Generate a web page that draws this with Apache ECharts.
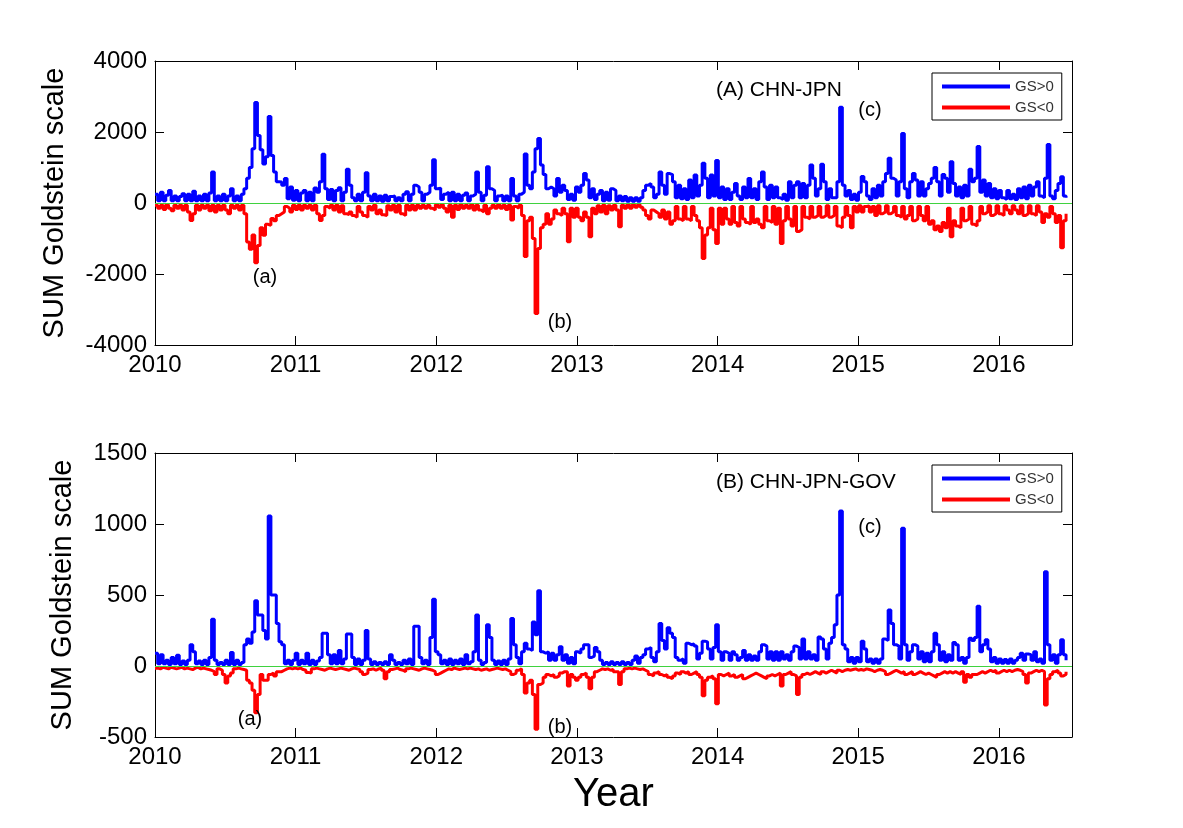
<!DOCTYPE html>
<html><head><meta charset="utf-8">
<script src="https://cdn.jsdelivr.net/npm/echarts@6/dist/echarts.min.js"></script>
<style>html,body{margin:0;padding:0;background:#fff}#c{width:1183px;height:828px}</style>
</head><body><div id="c"></div>
<script>
// weekly series, first week at start of 2010
const startYear = 2010;
const weekStep = 7 / 365.25;
const xTickLabels = [2010, 2011, 2012, 2013, 2014, 2015, 2016];
const seriesNames = ['GS>0', 'GS<0'];

// (A) CHN-JPN, GS>0
const posA = [
250,60,300,60,220,350,60,200,60,180,260,60,250,60,330,60,200,60,250,60,
280,870,60,200,60,250,60,200,400,60,200,60,250,400,700,1000,1530,2830,1900,1500,
1100,1300,2440,1340,870,600,590,500,690,120,450,80,
350,60,280,350,60,300,60,420,300,600,1370,400,100,380,60,350,430,60,300,950,
500,150,60,250,60,300,850,200,60,250,60,200,50,220,60,180,200,60,150,60,
250,320,60,250,500,450,300,60,250,300,500,1220,400,420,100,250,300,60,300,60,
250,60,220,280,60,200,250,870,300,60,220,1020,400,350,60,200,220,60,200,60,
690,200,60,250,300,1380,500,400,870,1530,1820,1070,800,400,450,400,200,690,300,500,
350,100,250,80,450,300,500,830,650,150,400,100,250,350,60,300,80,400,350,60,
200,60,180,50,150,50,150,50,150,350,500,550,450,150,250,870,500,250,830,800,
600,150,500,120,400,100,650,150,790,200,500,1120,700,150,790,200,1200,150,450,100,
400,100,300,550,200,100,450,150,690,150,400,100,600,870,450,100,500,150,450,150,
100,250,80,600,150,500,600,150,550,150,500,1070,700,200,400,1090,600,100,400,150,
150,600,2695,500,200,350,100,250,80,300,750,600,200,100,400,150,500,200,600,830,
1260,700,650,200,600,1960,400,150,600,830,650,200,600,200,400,550,700,1000,600,200,
800,700,300,1160,550,200,450,150,500,200,950,600,700,1590,300,650,200,550,150,400,
120,350,150,100,350,120,250,100,400,150,450,120,500,200,450,600,200,150,700,1650,
200,120,350,550,740,200,150
];
// (A) CHN-JPN, GS<0
const negA = [
-60,-150,-60,-180,-50,-150,-220,-60,-150,-60,-200,-60,-250,-490,-300,-60,-200,-60,-150,-60,
-220,-60,-250,-60,-200,-60,-200,-300,-60,-150,-60,-200,-60,-300,-1100,-1300,-900,-1680,-1200,-700,
-910,-600,-630,-440,-500,-350,-300,-250,-100,-150,-250,-60,
-180,-60,-200,-60,-150,-60,-200,-60,-300,-490,-350,-100,-150,-60,-200,-60,-250,-80,-300,-330,
-250,-350,-400,-100,-250,-350,-400,-100,-200,-60,-300,-200,-330,-350,-80,-200,-60,-250,-60,-300,
-350,-60,-200,-60,-200,-60,-150,-60,-150,-60,-150,-200,-50,-120,-50,-150,-250,-60,-400,-60,
-180,-50,-150,-60,-150,-50,-200,-60,-200,-250,-60,-300,-150,-60,-150,-50,-150,-60,-180,-60,
-480,-100,-150,-60,-350,-1510,-500,-400,-1000,-3110,-1280,-700,-600,-300,-600,-450,-200,-300,-350,-150,
-300,-1090,-150,-400,-150,-400,-500,-250,-400,-950,-150,-300,-80,-250,-60,-300,-80,-200,-60,-200,
-670,-60,-150,-50,-150,-50,-120,-50,-120,-200,-350,-450,-200,-250,-300,-400,-200,-450,-250,-600,
-500,-100,-450,-500,-100,-450,-500,-100,-350,-500,-700,-1560,-900,-700,-150,-750,-1140,-150,-600,-150,
-450,-600,-100,-550,-650,-100,-450,-550,-600,-100,-550,-450,-600,-700,-100,-500,-550,-100,-600,-150,
-1140,-500,-100,-450,-650,-100,-800,-750,-100,-400,-450,-100,-400,-350,-100,-400,-350,-80,-400,-350,
-100,-650,-700,-400,-100,-350,-700,-100,-250,-80,-250,-100,-80,-250,-100,-350,-80,-300,-250,-80,
-300,-250,-100,-350,-400,-100,-450,-350,-100,-500,-450,-100,-350,-500,-100,-600,-500,-750,-650,-800,
-550,-700,-150,-950,-500,-650,-700,-150,-500,-450,-100,-600,-650,-500,-100,-300,-250,-80,-350,-300,
-80,-300,-350,-80,-200,-300,-80,-200,-300,-80,-350,-300,-80,-300,-350,-80,-250,-550,-300,-400,
-100,-300,-550,-350,-1260,-500,-300
];
// (B) CHN-JPN-GOV, GS>0
const posB = [
90,15,80,15,40,10,60,15,75,10,35,10,40,150,100,15,35,10,40,10,
60,330,40,10,25,10,40,10,95,10,40,10,25,150,190,160,240,460,360,360,
250,190,1056,500,500,300,170,150,15,40,10,40,
90,10,40,15,90,10,40,10,35,60,230,230,80,15,80,15,110,15,50,225,
225,60,10,50,10,40,250,50,10,30,10,25,10,30,10,80,40,10,25,10,
40,15,50,10,280,280,60,15,40,10,200,470,100,80,15,40,10,50,10,40,
15,50,10,80,15,30,100,360,40,10,25,290,200,40,10,35,10,40,10,50,
335,150,60,15,100,160,120,110,310,220,530,100,90,100,40,90,40,80,135,40,
80,20,60,15,100,90,120,150,150,60,70,130,100,40,10,25,10,30,10,25,
10,30,10,25,10,40,70,20,60,80,120,130,60,30,100,300,180,120,270,230,
200,60,40,50,20,160,150,155,140,50,90,175,170,120,50,130,290,100,40,100,
90,40,100,80,40,60,110,40,80,40,70,40,100,150,140,50,100,40,100,40,
100,50,80,40,100,140,130,50,190,50,100,50,80,40,205,190,120,50,160,200,
290,500,1091,150,120,30,60,20,60,30,175,120,30,50,20,50,20,50,190,180,
395,300,150,140,50,970,150,40,100,150,140,50,100,30,90,30,100,230,150,40,
100,30,80,40,165,150,40,60,20,60,195,180,200,420,100,150,185,120,30,60,
20,50,20,45,20,50,20,40,60,90,40,85,80,40,100,30,50,20,664,150,
40,80,20,80,185,80,40
];
// (B) CHN-JPN-GOV, GS<0
const negB = [
-15,-20,-10,-15,-20,-10,-15,-20,-15,-10,-20,-15,-20,-25,-15,-10,-20,-15,-20,-25,
-30,-40,-60,-20,-30,-60,-120,-70,-50,-20,-15,-20,-25,-30,-100,-120,-170,-330,-200,-60,
-100,-100,-60,-50,-70,-40,-40,-30,-20,-15,-20,-15,
-20,-15,-25,-30,-45,-50,-20,-15,-20,-25,-30,-20,-15,-20,-25,-20,-15,-20,-25,-30,
-20,-15,-20,-25,-40,-60,-50,-25,-20,-30,-20,-15,-30,-90,-40,-25,-20,-15,-25,-30,
-40,-20,-15,-20,-25,-30,-20,-15,-20,-25,-30,-40,-60,-50,-40,-30,-20,-25,-15,-20,
-25,-20,-15,-20,-15,-20,-25,-20,-30,-25,-20,-30,-25,-20,-15,-20,-25,-20,-30,-40,
-60,-50,-30,-20,-60,-190,-120,-100,-200,-445,-130,-120,-80,-60,-70,-60,-80,-70,-50,-40,
-40,-140,-60,-80,-100,-80,-60,-50,-80,-160,-80,-40,-30,-20,-25,-20,-30,-25,-40,-40,
-130,-40,-20,-15,-20,-15,-20,-25,-20,-30,-40,-60,-70,-50,-40,-60,-70,-60,-80,-90,
-70,-50,-60,-40,-50,-40,-60,-50,-40,-60,-80,-210,-100,-80,-70,-90,-265,-60,-70,-60,
-50,-70,-60,-80,-70,-60,-90,-80,-70,-60,-50,-60,-70,-80,-90,-70,-60,-70,-60,-50,
-140,-60,-50,-40,-60,-70,-200,-80,-60,-50,-60,-50,-40,-50,-60,-40,-50,-40,-30,-40,
-50,-30,-40,-30,-25,-30,-25,-20,-30,-25,-30,-20,-25,-30,-40,-30,-25,-30,-40,-60,
-50,-40,-30,-40,-50,-40,-60,-50,-40,-60,-50,-40,-50,-60,-50,-60,-70,-80,-60,-50,
-40,-50,-40,-50,-40,-50,-60,-40,-115,-60,-80,-60,-60,-50,-40,-50,-40,-30,-40,-30,
-50,-40,-30,-40,-30,-40,-30,-25,-30,-40,-60,-120,-50,-40,-30,-40,-30,-40,-275,-90,
-60,-40,-30,-50,-70,-60,-40
];

const FONT = '"Liberation Sans", Arial, sans-serif';
function pts(arr) { return arr.map((v, i) => [startYear + i * weekStep, v]); }

const chart = echarts.init(document.getElementById('c'), null, { renderer: 'canvas' });

function xAxisPair(gi, withName) {
  const base = {
    type: 'value', gridIndex: gi, min: 2010, max: 2016.52, interval: 1,
    splitLine: { show: false },
    axisLine: { show: true, onZero: false, lineStyle: { color: '#000', width: 1 } },
    axisTick: { show: true, inside: true, length: 9, lineStyle: { color: '#000', width: 1 } }
  };
  return [
    Object.assign({}, base, {
      position: 'bottom',
      axisLabel: {
        show: true, color: '#000', fontSize: 24, fontFamily: FONT, margin: 8,
        showMaxLabel: false,
        formatter: v => (xTickLabels.indexOf(Math.round(v * 1000) / 1000) >= 0 ? String(Math.round(v)) : '')
      },
      name: withName ? 'Year' : '', nameLocation: 'middle', nameGap: 38,
      nameTextStyle: { color: '#000', fontSize: 40, fontFamily: FONT }
    }),
    Object.assign({}, base, { position: 'top', axisLabel: { show: false } })
  ];
}
function yAxisPair(gi, min, max, interval, gap) {
  const base = {
    type: 'value', gridIndex: gi, min: min, max: max, interval: interval,
    splitLine: { show: false },
    axisLine: { show: true, onZero: false, lineStyle: { color: '#000', width: 1 } },
    axisTick: { show: true, inside: true, length: 9, lineStyle: { color: '#000', width: 1 } }
  };
  return [
    Object.assign({}, base, {
      position: 'left',
      axisLabel: { show: true, color: '#000', fontSize: 24, fontFamily: FONT, margin: 8,
        formatter: v => String(v) },
      name: 'SUM Goldstein scale', nameLocation: 'middle', nameGap: gap,
      nameTextStyle: { color: '#000', fontSize: 29, fontFamily: FONT }
    }),
    Object.assign({}, base, { position: 'right', axisLabel: { show: false } })
  ];
}

function lineSeries(name, color, data, xi, yi, withZero) {
  const s = {
    name: name, type: 'line', xAxisIndex: xi, yAxisIndex: yi, step: 'end',
    data: pts(data), showSymbol: false, symbol: 'none', animation: false,
    lineStyle: { color: color, width: 3 }, itemStyle: { color: color },
    z: 2
  };
  if (withZero) {
    s.markLine = {
      silent: true, symbol: 'none', animation: false, z: 5,
      label: { show: false },
      lineStyle: { color: '#3fd23f', width: 1, type: 'solid' },
      data: [{ yAxis: 0 }]
    };
  }
  return s;
}

const legendBase = {
  orient: 'vertical', left: 932, itemWidth: 68, itemHeight: 4, itemGap: 6, icon: 'rect',
  padding: [6, 8, 5, 10], borderColor: '#000', borderWidth: 1, backgroundColor: '#fff',
  textStyle: { fontSize: 15, color: '#333', fontFamily: FONT },
  data: seriesNames, selectedMode: false
};

function note(x, y, s, size, align) {
  return { type: 'text', x: x, y: y, z: 10,
    style: { text: s, fill: '#000', font: size + 'px ' + FONT, textAlign: align, textVerticalAlign: 'middle' } };
}
const graphics = [
  note(716, 90, '(A) CHN-JPN', 21, 'left'),
  note(265, 277, '(a)', 20, 'center'),
  note(560, 322, '(b)', 20, 'center'),
  note(870, 110, '(c)', 20, 'center'),
  note(716, 482, '(B) CHN-JPN-GOV', 21, 'left'),
  note(250, 719, '(a)', 20, 'center'),
  note(560, 727, '(b)', 20, 'center'),
  note(870, 527, '(c)', 20, 'center')
];
const lens = [posA.length, negA.length, posB.length, negB.length];
if (new Set(lens).size !== 1) {
  graphics.push({ type: 'text', x: 10, y: 10, style: { text: 'LEN ' + lens.join(','), fill: '#f0f', font: '14px sans-serif' } });
}

chart.setOption({
  animation: false,
  backgroundColor: '#fff',
  grid: [
    { left: 155, top: 61, width: 917, height: 284, outerBoundsMode: 'none', containLabel: false },
    { left: 155, top: 453, width: 917, height: 284, outerBoundsMode: 'none', containLabel: false }
  ],
  xAxis: xAxisPair(0, false).concat(xAxisPair(1, true)),
  yAxis: yAxisPair(0, -4000, 4000, 2000, 86).concat(yAxisPair(1, -500, 1500, 500, 78)),
  legend: [
    Object.assign({}, legendBase, { top: 73 }),
    Object.assign({}, legendBase, { top: 465 })
  ],
  series: [
    lineSeries('GS>0', '#0000ff', posA, 0, 0, false),
    lineSeries('GS<0', '#ff0000', negA, 0, 0, true),
    lineSeries('GS>0', '#0000ff', posB, 2, 2, false),
    lineSeries('GS<0', '#ff0000', negB, 2, 2, true)
  ],
  graphic: graphics
});
</script>
</body></html>
